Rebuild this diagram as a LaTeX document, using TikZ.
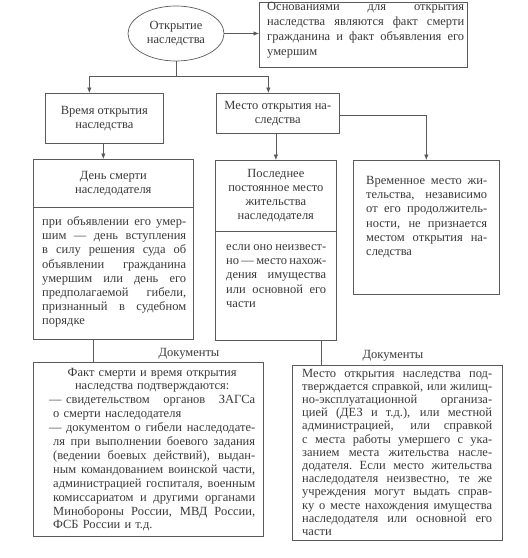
\documentclass[tikz,border=0pt]{standalone}
\usepackage{fontspec}
\setmainfont{Liberation Serif}
\usetikzlibrary{arrows.meta,shapes.geometric}
\definecolor{lc}{HTML}{5A5A5A}
\definecolor{tc}{HTML}{3A3A3A}
\newdimen\jw
\newcommand{\jsp}{\spaceskip=0.23em plus 1fil minus 0.08em\relax\xspaceskip=\spaceskip}
\newcommand{\jl}[1]{\noindent\hbox to \jw{\jsp #1}\par}
\newcommand{\cl}[1]{\noindent\hbox to \jw{\hss#1\hss}\par}
\newcommand{\il}[1]{\noindent\hbox to \jw{\jsp\hskip4pt\relax#1}\par}
\newcommand{\lastl}[1]{\noindent\hbox to \jw{#1\hfil}\par}
\newcommand{\dsh}{—\hskip0.35em\relax}
\begin{document}
\begin{tikzpicture}[x=1pt,y=-1pt,
  box/.style={draw=lc, line width=0.7pt, inner sep=0pt, anchor=north west, text=tc, align=center, font=\fontsize{12.5}{14.1}\selectfont},
  txt/.style={text=tc, inner sep=0pt, font=\fontsize{12.5}{14.1}\selectfont},
  arr/.style={draw=lc, line width=0.7pt, -{Latex[length=5.5pt,width=4.5pt]}},
  ln/.style={draw=lc, line width=0.7pt}]
\useasboundingbox (0,0) rectangle (528,558);

\node[txt, draw=lc, line width=0.7pt, ellipse, minimum width=96pt, minimum height=55pt, align=center] (ell) at (176,33.5) {Открытие\\наследства};

\node[box, minimum width=208pt, minimum height=65pt] (tb) at (259,2) {};
\node[txt, text width=197pt, anchor=base west, font=\fontsize{12.5}{15.2}\selectfont] (tbt) at (267,10) {\jw=197pt\relax\jl{Основаниями для открытия}\jl{наследства являются факт смерти}\jl{гражданина и факт объявления его}\lastl{умершим}};

\node[box, minimum width=118pt, minimum height=50pt] (tL) at (45,93) {Время открытия\\наследства};
\node[box, minimum width=123pt, minimum height=40pt] (tM) at (216,93) {Место открытия на-\\следства};

\node[box, minimum width=160pt, minimum height=48pt] (dL) at (33,159) {День смерти\\наследодателя};
\node[box, minimum width=160pt, minimum height=132pt] (dLb) at (33,207) {};
\node[txt, text width=144pt, anchor=base west] (dLt) at (42,225.7) {\jw=144pt\relax\jl{при объявлении его умер-}\jl{шим — день вступления}\jl{в силу решения суда об}\jl{объявлении гражданина}\jl{умершим или день его}\jl{предполагаемой гибели,}\jl{признанный в судебном}\lastl{порядке}};

\node[box, minimum width=121pt, minimum height=71pt] (dM) at (215,160) {Последнее\\постоянное место\\жительства\\наследодателя};
\node[box, minimum width=121pt, minimum height=109pt] (dMb) at (215,231) {};
\node[txt, text width=100pt, anchor=base west] (dMt) at (226,250.7) {\jw=100pt\relax\jl{если оно неизвест-}\jl{но — место нахож-}\jl{дения имущества}\jl{или основной его}\lastl{части}};

\node[box, minimum width=146pt, minimum height=134pt] (rB) at (353,160) {};
\node[txt, text width=121pt, anchor=base west] (rBt) at (366,184.7) {\jw=121pt\relax\jl{Временное место жи-}\jl{тельства, независимо}\jl{от его продолжитель-}\jl{ности, не признается}\jl{местом открытия на-}\lastl{следства}};

\node[txt, anchor=base] (docL) at (189,356) {Документы};
\node[txt, anchor=base] (docR) at (393,358) {Документы};

\node[box, minimum width=230pt, minimum height=174pt] (bL) at (33,362) {};
\node[txt, text width=206pt, anchor=base west, font=\fontsize{12.5}{13.9}\selectfont] (bLt) at (49,376) {\jw=206pt\relax\cl{Факт смерти и время открытия}\cl{наследства подтверждаются:}\jl{\dsh свидетельством органов ЗАГСа}\lastl{\hskip4pt о смерти наследодателя}\jl{\dsh документом о гибели наследодате-}\il{ля при выполнении боевого задания}\il{(ведении боевых действий), выдан-}\il{ным командованием воинской части,}\il{администрацией госпиталя, военным}\il{комиссариатом и другими органами}\il{Минобороны России, МВД России,}\lastl{\hskip4pt ФСБ России и т.д.}};

\node[box, minimum width=210pt, minimum height=175pt] (bR) at (292,365) {};
\node[txt, text width=190pt, anchor=base west, font=\fontsize{12.5}{13.2}\selectfont] (bRt) at (302,377) {\jw=190pt\relax\jl{Место открытия наследства под-}\jl{тверждается справкой, или жилищ-}\jl{но-эксплуатационной организа-}\jl{цией (ДЕЗ и т.д.), или местной}\jl{администрацией, или справкой}\jl{с места работы умершего с ука-}\jl{занием места жительства насле-}\jl{додателя. Если место жительства}\jl{наследодателя неизвестно, те же}\jl{учреждения могут выдать справ-}\jl{ку о месте нахождения имущества}\jl{наследодателя или основной его}\lastl{части}};

\draw[ln] (ell.south) -- ++(0,15) coordinate (j);
\draw[arr] (j) -| ([xshift=-15pt]tL.north);
\draw[arr] (j) -| ([xshift=-9.5pt]tM.north);
\draw[arr] (ell.east) -- (ell.east -| tb.west);
\draw[arr] ([xshift=-1pt]tL.south) coordinate (a1) -- (a1 |- dL.north);
\draw[arr] ([xshift=-2pt]tM.south) coordinate (a2) -- (a2 |- dM.north);
\draw[arr] ([yshift=-2pt]tM.east) -| (rB.north);
\draw[ln] ([xshift=-20pt]dLb.south) coordinate (p1) -- (p1 |- bL.north);
\draw[ln] ([xshift=45pt]dMb.south) coordinate (p2) -- (p2 |- bR.north);
\end{tikzpicture}
\end{document}
